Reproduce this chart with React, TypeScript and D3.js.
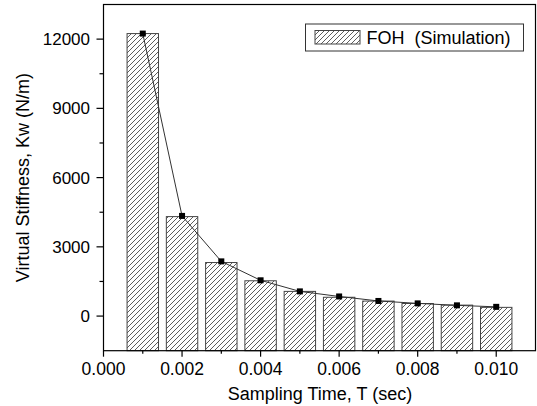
import React from "react";
import * as d3 from "d3";

const samplingTimes = [0.001, 0.002, 0.003, 0.004, 0.005, 0.006, 0.007, 0.008, 0.009, 0.01];
const barValues = [12240, 4310, 2320, 1530, 1070, 815, 650, 545, 475, 378];
const pointValues = [12240, 4340, 2370, 1550, 1070, 850, 655, 550, 465, 400];
const xTickValues = [0, 0.002, 0.004, 0.006, 0.008, 0.01];
const xMinorTicks = [0.001, 0.003, 0.005, 0.007, 0.009];
const yTickValues = [0, 3000, 6000, 9000, 12000];
const yMinorTicks = [1500, 4500, 7500, 10500];
const legendLabel = "FOH  (Simulation)";
const xTitle = "Sampling Time, T (sec)";
const yTitle = "Virtual Stiffness, Kw (N/m)";

const W = 537;
const H = 406;
const FONT = "'Liberation Sans', Arial, sans-serif";

export default function App() {
  const x = d3.scaleLinear().domain([0, 0.011]).range([103.5, 535.5]);
  const y = d3.scaleLinear().domain([-1500, 13500]).range([350.7, 4.5]);
  const barW = x(0.0008) - x(0);
  const [x0, x1] = x.range();
  const [yB, yT] = y.range();

  const line = d3
    .line<number>()
    .x((_, i) => x(samplingTimes[i]))
    .y((d) => y(d))
    .curve(d3.curveLinear);

  return (
    <svg
      width={W}
      height={H}
      style={{ position: "absolute", left: 0, top: 0, background: "#fff" }}
      fontFamily={FONT}
    >
      <defs>
        <pattern id="hatch" patternUnits="userSpaceOnUse" width={5} height={5}>
          <path d="M0,5 L5,0 M-1,1 L1,-1 M4,6 L6,4" stroke="#333" strokeWidth={0.8} />
        </pattern>
      </defs>
      <rect x={0} y={0} width={W} height={H} fill="#fff" />

      {/* bars */}
      {barValues.map((v, i) => (
        <rect
          key={i}
          x={x(samplingTimes[i]) - barW / 2}
          y={y(v)}
          width={barW}
          height={yB - y(v)}
          fill="url(#hatch)"
          stroke="#444"
          strokeWidth={1}
        />
      ))}

      {/* line */}
      <path d={line(pointValues) || ""} fill="none" stroke="#333" strokeWidth={1} />
      {pointValues.map((v, i) => (
        <rect key={i} x={x(samplingTimes[i]) - 3} y={y(v) - 3} width={6} height={6} fill="#000" />
      ))}

      {/* frame */}
      <rect x={x0} y={yT} width={x1 - x0} height={yB - yT} fill="none" stroke="#000" strokeWidth={1.2} />

      {/* x ticks */}
      {xTickValues.map((t) => (
        <g key={t}>
          <line x1={x(t)} x2={x(t)} y1={yB} y2={yB + 6} stroke="#000" strokeWidth={1.2} />
          <text x={x(t)} y={374.5} fontSize={17.5} textAnchor="middle" fill="#000">
            {d3.format(".3f")(t)}
          </text>
        </g>
      ))}
      {xMinorTicks.map((t) => (
        <line key={t} x1={x(t)} x2={x(t)} y1={yB} y2={yB + 3} stroke="#000" strokeWidth={1.2} />
      ))}

      {/* y ticks */}
      {yTickValues.map((t) => (
        <g key={t}>
          <line x1={x0 - 7} x2={x0} y1={y(t)} y2={y(t)} stroke="#000" strokeWidth={1.2} />
          <text x={90} y={y(t)} dy="0.35em" fontSize={17} textAnchor="end" fill="#000">
            {t}
          </text>
        </g>
      ))}
      {yMinorTicks.map((t) => (
        <line key={t} x1={x0 - 4} x2={x0} y1={y(t)} y2={y(t)} stroke="#000" strokeWidth={1.2} />
      ))}

      {/* titles */}
      <text x={320} y={400} fontSize={18} textAnchor="middle" fill="#000">
        {xTitle}
      </text>
      <text
        transform={`translate(29,${(yB + yT) / 2}) rotate(-90)`}
        fontSize={18}
        textAnchor="middle"
        fill="#000"
      >
        {yTitle}
      </text>

      {/* legend */}
      <rect x={305.5} y={24} width={218} height={27} fill="#fff" stroke="#333" strokeWidth={1} />
      <rect x={315} y={30.5} width={45} height={13.5} fill="url(#hatch)" stroke="#444" strokeWidth={1} />
      <text x={366.5} y={43.5} fontSize={18} fill="#000" style={{ whiteSpace: "pre" }}>
        {legendLabel}
      </text>
    </svg>
  );
}
